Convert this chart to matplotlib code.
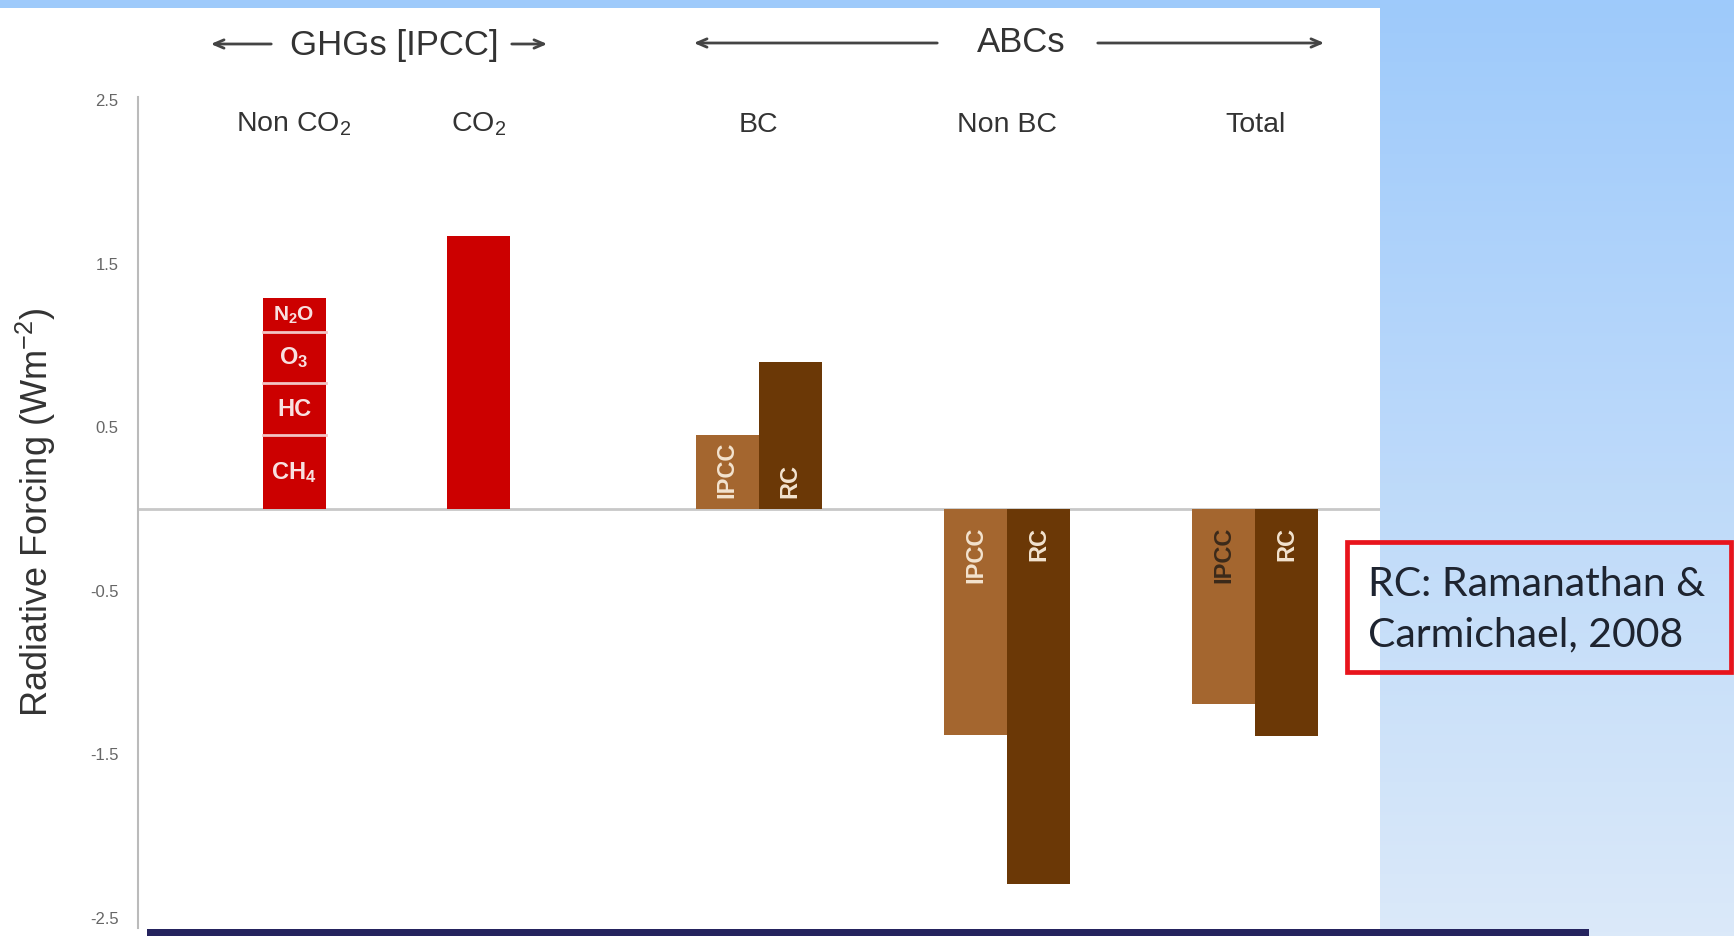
import numpy as np
import matplotlib
matplotlib.use("Agg")
import matplotlib.pyplot as plt
from matplotlib.patches import Rectangle

plt.rcParams['font.family'] = ['Liberation Sans', 'DejaVu Sans']
plt.rcParams['mathtext.fontset'] = 'custom'
plt.rcParams['mathtext.rm'] = 'Liberation Sans'
plt.rcParams['mathtext.it'] = 'Liberation Sans:italic'
plt.rcParams['mathtext.bf'] = 'Liberation Sans:bold'

# --- data (W m-2) ---
categories = ["Non CO$_2$", "CO$_2$", "BC", "Non BC", "Total"]
gas_labels = ["CH$_\\mathbf{4}$", "HC", "O$_\\mathbf{3}$", "N$_\\mathbf{2}$O"]
gas_values = [0.45, 0.32, 0.31, 0.21]
co2_value = 1.67
abc_groups = ["BC", "Non BC", "Total"]
ipcc_values = [0.45, -1.38, -1.19]
rc_values = [0.90, -2.29, -1.39]
yticks = [2.5, 1.5, 0.5, -0.5, -1.5, -2.5]

# --- layout ---
group_x = [1.56, 3.405, 6.207, 8.69, 11.17]
bar_w = 0.63
red = '#cc0000'
ipcc_col = '#a4662f'
rc_col = '#6b3806'
txt_col = '#333333'

W, H = 1734, 936
fig = plt.figure(figsize=(W / 100, H / 100), dpi=100)

# background: blue gradient slide, white panel, navy footer bar
bg = fig.add_axes([0, 0, 1, 1])
grad = np.linspace(0, 1, 256).reshape(-1, 1)
cmap = matplotlib.colors.LinearSegmentedColormap.from_list('sky', ['#9ecafb', '#dbe9f9'])
bg.imshow(grad, cmap=cmap, aspect='auto', extent=[0, W, H, 0])
bg.add_patch(Rectangle((0, 8), 1380, H - 8, facecolor='white', edgecolor='none'))
bg.add_patch(Rectangle((147, 929), 1442, 8, facecolor='#25235e', edgecolor='none'))
bg.set_xlim(0, W)
bg.set_ylim(H, 0)
bg.axis('off')

# group headers with arrows
bg.text(394, 46, "GHGs [IPCC]", ha='center', va='center', fontsize=25, color=txt_col)
bg.text(1021, 42, "ABCs", ha='center', va='center', fontsize=25, color=txt_col)
arrow = dict(arrowstyle='->,head_length=0.7,head_width=0.3', color='#444444', lw=2)
bg.annotate('', xy=(208, 44), xytext=(274, 44), arrowprops=arrow)
bg.annotate('', xy=(550, 44), xytext=(509, 44), arrowprops=arrow)
bg.annotate('', xy=(691, 43), xytext=(940, 43), arrowprops=arrow)
bg.annotate('', xy=(1327, 43), xytext=(1095, 43), arrowprops=arrow)

# reference note
bg.add_patch(Rectangle((1347, 542), 384, 130, facecolor='none', edgecolor='#e8141c', lw=3.4))
bg.text(1368, 584, "RC: Ramanathan &", ha='left', va='center', fontsize=29.5,
        color='#1e2430', family=['Lato', 'DejaVu Sans'])
bg.text(1368, 635, "Carmichael, 2008", ha='left', va='center', fontsize=29.5,
        color='#1e2430', family=['Lato', 'DejaVu Sans'])

# main chart
ax = fig.add_axes([138 / W, (H - 927.8) / H, 1242 / W, 831.1 / H])
ax.set_facecolor('none')
ax.set_xlim(0, 12.42)
ax.set_ylim(-2.56, 2.52)
for s in ['top', 'right', 'bottom']:
    ax.spines[s].set_visible(False)
ax.spines['left'].set_color('#bbbbbb')
ax.spines['left'].set_linewidth(1.5)
ax.set_xticks([])
ax.set_yticks(yticks)
ax.set_yticklabels([f"{v:g}" for v in yticks])
ax.tick_params(axis='y', length=0, pad=14, labelsize=12, labelcolor='#666666')
ax.axhline(0, color='#c8c8c8', lw=2, zorder=1)
ax.set_ylabel("Radiative Forcing (Wm$^{-2}$)", fontsize=26, color='#333333', labelpad=23)

# non-CO2 stacked bar
bottoms = np.concatenate([[0], np.cumsum(gas_values)[:-1]])
ax.bar(group_x[0], gas_values, bar_w, bottom=bottoms, color=red, edgecolor='none', zorder=2)
for b in bottoms[1:]:
    ax.plot([group_x[0] - bar_w / 2, group_x[0] + bar_w / 2], [b, b], color='#f2c4c4', lw=2, zorder=3)
for lab, b, v in zip(gas_labels, bottoms, gas_values):
    fs = 15 if lab.startswith('N') else 17
    ax.text(group_x[0], b + v / 2, lab, ha='center', va='center', fontsize=fs,
            fontweight='bold', color='#f8e0e0', zorder=4)

# CO2
ax.bar(group_x[1], co2_value, bar_w, color=red, edgecolor='none', zorder=2)

# ABCs: IPCC vs RC
abc_x = np.array(group_x[2:])
ax.bar(abc_x - bar_w / 2, ipcc_values, bar_w, color=ipcc_col, edgecolor='none', zorder=2)
ax.bar(abc_x + bar_w / 2, rc_values, bar_w, color=rc_col, edgecolor='none', zorder=2)
for i, x in enumerate(abc_x):
    for dx, v, lab in [(-bar_w / 2, ipcc_values[i], "IPCC"), (bar_w / 2, rc_values[i], "RC")]:
        col = '#3b2a1a' if (lab == "IPCC" and abc_groups[i] == "Total") else '#f3e3cf'
        if v > 0:
            ax.text(x + dx, 0.07, lab, rotation=90, ha='center', va='bottom',
                    fontsize=17, fontweight='bold', color=col, zorder=4)
        else:
            ax.text(x + dx, -0.11, lab, rotation=90, ha='center', va='top',
                    fontsize=17, fontweight='bold', color=col, zorder=4)

# category labels
for x, lab in zip(group_x, categories):
    ax.text(x, 2.35, lab, ha='center', va='center', fontsize=20.5, color=txt_col)

fig.savefig("out.png", dpi=100)
